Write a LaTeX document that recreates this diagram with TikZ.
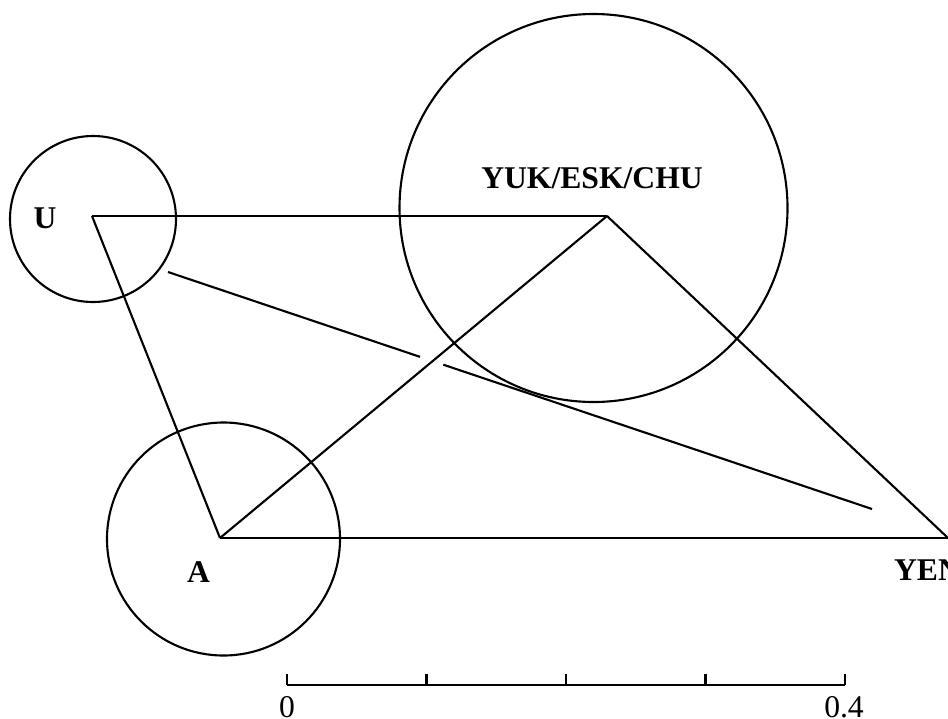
\documentclass[tikz,border=0pt]{standalone}
\usepackage{fontspec}
\setmainfont{Liberation Serif}
\usetikzlibrary{calc}

\begin{document}
\begin{tikzpicture}[line width=0.6pt,
    zone/.style={draw,circle,inner sep=0pt},
    lab/.style={font=\fontsize{9}{11}\selectfont\bfseries,anchor=base,inner sep=0pt},
    num/.style={font=\fontsize{9}{11}\selectfont,anchor=base,inner sep=0pt}]
  \useasboundingbox (0,0) rectangle (9.48,7.18);
  % circles round the groups
  \foreach \n/\x/\y/\d in {cU/0.93/4.99/1.66, cY/5.935/5.10/3.88, cA/2.235/1.79/2.33}
  { \node[zone,minimum size=\d cm] (\n) at (\x,\y) {}; }
  % group positions
  \coordinate (U) at (0.92,5.02);
  \coordinate (Y) at (6.07,5.02);
  \coordinate (A) at (2.20,1.80);
  \coordinate (E) at (9.48,1.80);
  \foreach \a/\b in {U/Y, U/A, A/Y, A/E, Y/E}
  { \draw (\a) -- (\b); }
  % line passing under A--Y
  \coordinate (p) at (1.68,4.46);
  \coordinate (q) at (8.72,2.09);
  \draw (p) -- ($(p)!0.358!(q)$) ($(p)!0.391!(q)$) -- (q);
  % labels
  \node[lab] (lU) at (0.45,4.90) {U};
  \node[lab] (lY) at (5.92,5.30) {YUK/ESK/CHU};
  \node[lab] (lA) at (1.985,1.36) {A};
  \node[lab,anchor=base west] (lE) at (8.93,1.38) {YEN};
  % scale
  \coordinate (s0) at (2.87,0.33);
  \coordinate (s4) at (8.45,0.33);
  \draw (s0) -- (s4);
  \foreach \i in {0,...,4}
  { \draw ($(s0)!\i/4!(s4)$) -- ++(0,0.11); }
  \node[num] (n0) at (2.87,0.01) {0};
  \node[num] (n4) at (8.44,0.01) {0.4};
\end{tikzpicture}
\end{document}
